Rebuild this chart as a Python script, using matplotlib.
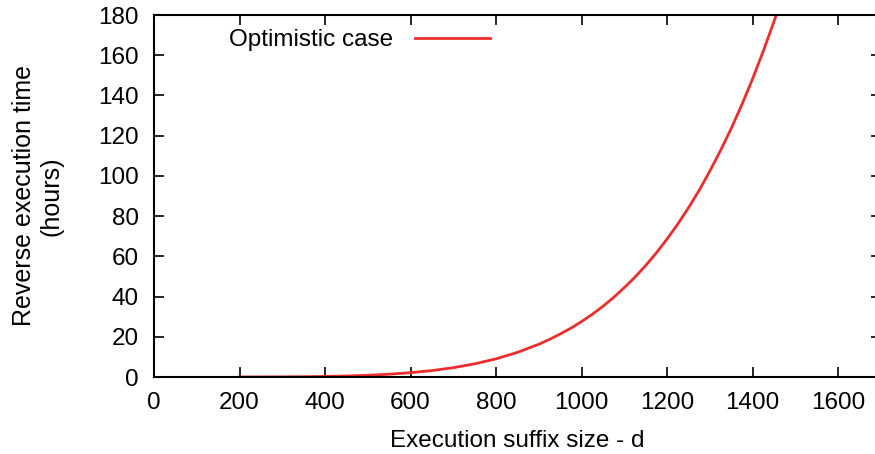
import numpy as np
import matplotlib as mpl
import matplotlib.pyplot as plt

mpl.rcParams['font.family'] = ['Liberation Sans', 'DejaVu Sans']
mpl.rcParams['font.size'] = 17.5

# suffix size d vs. estimated reverse execution time (hours)
suffix_size = [200, 250, 300, 350, 400, 450, 500, 550, 600, 650, 700, 750,
               800, 850, 900, 925, 950, 975, 1000, 1025, 1050, 1075, 1100,
               1125, 1150, 1175, 1200, 1225, 1250, 1275, 1300, 1325, 1350,
               1375, 1400, 1425, 1450, 1475, 1500]
exec_hours = [0.01, 0.03, 0.07, 0.14, 0.28, 0.51, 0.86, 1.39, 2.15, 3.2,
              4.64, 6.55, 9.04, 12.25, 16.3, 18.7, 21.4, 24.3, 27.6, 31.2,
              35.2, 39.6, 44.5, 49.7, 55.5, 61.8, 68.7, 76.1, 84.2, 92.9,
              102.5, 112.7, 123.7, 135.6, 148.4, 162.2, 176.9, 192.7, 209.6]

xticks = np.arange(0, 1700, 200)
yticks = np.arange(0, 181, 20)

fig = plt.figure(figsize=(8.75, 4.54), dpi=100)
ax = fig.add_axes([154/875, 1 - 377/454, (881 - 154)/875, 362/454])

ax.plot(suffix_size, exec_hours, c='#ec2d2d', lw=2.0, label='Optimistic case')

ax.set_xlim(0, 1700)
ax.set_ylim(0, 180)
ax.set_xticks(xticks)
ax.set_yticks(yticks)
ax.tick_params(direction='in', length=7.5, width=1.2, top=True, right=True)
ax.tick_params(axis='x', pad=11)
ax.tick_params(axis='y', pad=11)
for s in ax.spines.values():
    s.set_linewidth(1.5)

ax.set_xlabel('Execution suffix size - d', labelpad=11)
ax.set_ylabel('Reverse execution time\n(hours)', labelpad=25, linespacing=1.15,
              fontsize=18)

ax.legend(loc='center right', bbox_to_anchor=(490/875, 1 - 40/454),
          bbox_transform=fig.transFigure, frameon=False, markerfirst=False,
          handlelength=3.1, handletextpad=0.9, borderpad=0, borderaxespad=0)

plt.savefig('out.png', dpi=100)
